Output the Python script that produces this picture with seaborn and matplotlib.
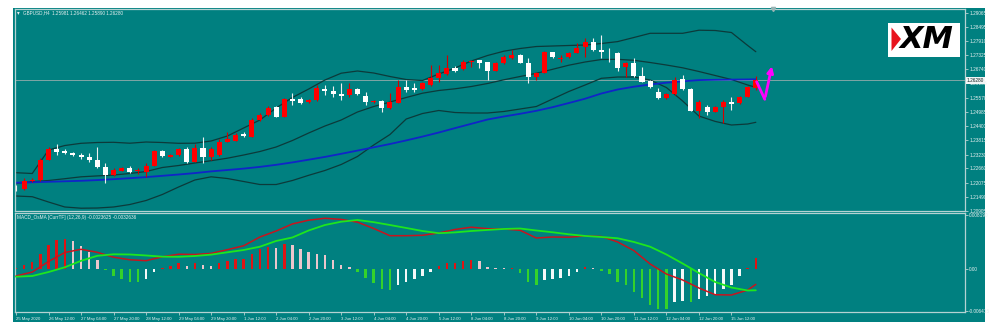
import numpy as np
import pandas as pd
import matplotlib
matplotlib.use("Agg")
import matplotlib.pyplot as plt
import seaborn as sns
from matplotlib.patches import Rectangle, Polygon

sns.set_theme(style="white")
plt.rcParams['font.family'] = ['Liberation Sans', 'DejaVu Sans']

# ---------------- GBPUSD H4 candles ----------------
opens = [1.21872, 1.21798, 1.22160, 1.22181, 1.23004, 1.23444, 1.23374, 1.23279, 1.23209, 1.23140,
         1.23004, 1.22703, 1.22386, 1.22563, 1.22662, 1.22551, 1.22522, 1.22769, 1.23374, 1.23140,
         1.23209, 1.23444, 1.22934, 1.23510, 1.23140, 1.23209, 1.23757, 1.23798, 1.24061, 1.23963,
         1.24650, 1.24856, 1.25172, 1.24786, 1.25514, 1.25502, 1.25403, 1.25473, 1.25925, 1.25855,
         1.25720, 1.25679, 1.25913, 1.25650, 1.25378, 1.25432, 1.25131, 1.25362, 1.25995, 1.25979,
         1.25913, 1.26090, 1.26366, 1.26543, 1.26802, 1.26748, 1.27024, 1.27119, 1.27024, 1.26679,
         1.26983, 1.27189, 1.27325, 1.27008, 1.26407, 1.26596, 1.27436, 1.27160, 1.27230, 1.27419,
         1.27641, 1.27872, 1.27530, 1.27460, 1.27395, 1.26843, 1.26983, 1.26473, 1.26255, 1.25814,
         1.25543, 1.25720, 1.26337, 1.25913, 1.25032, 1.25172, 1.24991, 1.25172, 1.25403, 1.25337,
         1.25609, 1.25981]
highs = [1.21975, 1.22263, 1.22263, 1.23086, 1.23539, 1.23662, 1.23456, 1.23345, 1.23304, 1.23304,
         1.23551, 1.22880, 1.22674, 1.22716, 1.22769, 1.22662, 1.22868, 1.23415, 1.23415, 1.23251,
         1.23498, 1.23551, 1.23662, 1.23950, 1.23551, 1.23868, 1.24144, 1.24115, 1.24168, 1.24732,
         1.24938, 1.25226, 1.25226, 1.25555, 1.25761, 1.25609, 1.25514, 1.26090, 1.26090, 1.26049,
         1.26160, 1.26160, 1.25967, 1.25814, 1.25473, 1.25473, 1.25749, 1.26296, 1.26296, 1.26160,
         1.26214, 1.26913, 1.26913, 1.27325, 1.26872, 1.27119, 1.27119, 1.27130, 1.27049, 1.27037,
         1.27325, 1.27530, 1.27366, 1.27201, 1.26625, 1.27489, 1.27460, 1.27325, 1.27448, 1.27831,
         1.28012, 1.28012, 1.28148, 1.27600, 1.27460, 1.27037, 1.27189, 1.26843, 1.26296, 1.25967,
         1.25761, 1.26407, 1.26502, 1.25967, 1.25473, 1.25267, 1.25226, 1.25473, 1.25609, 1.25637,
         1.26049, 1.26462]
lows = [1.21728, 1.21769, 1.22098, 1.22139, 1.22990, 1.23209, 1.23251, 1.23168, 1.23032, 1.22934,
        1.22662, 1.22057, 1.22345, 1.22551, 1.22481, 1.22428, 1.22316, 1.22757, 1.23140, 1.23127,
        1.23168, 1.22893, 1.22921, 1.22893, 1.23004, 1.23168, 1.23744, 1.23786, 1.23963, 1.23950,
        1.24609, 1.24814, 1.24773, 1.24773, 1.25267, 1.25308, 1.25349, 1.25452, 1.25679, 1.25609,
        1.25473, 1.25609, 1.25679, 1.25267, 1.25349, 1.24991, 1.25102, 1.25349, 1.25814, 1.25814,
        1.25884, 1.26049, 1.26226, 1.26502, 1.26625, 1.26707, 1.26843, 1.26777, 1.26296, 1.26666,
        1.26954, 1.27160, 1.26995, 1.26172, 1.26296, 1.26584, 1.27222, 1.27049, 1.27201, 1.27395,
        1.27255, 1.27489, 1.27189, 1.27049, 1.26679, 1.26432, 1.26419, 1.26214, 1.25967, 1.25514,
        1.25514, 1.25679, 1.25884, 1.25020, 1.24732, 1.24856, 1.24979, 1.24526, 1.25061, 1.25308,
        1.25596, 1.25890]
closes = [1.21831, 1.22152, 1.22201, 1.23004, 1.23444, 1.23345, 1.23304, 1.23209, 1.23115, 1.23004,
          1.22728, 1.22386, 1.22592, 1.22662, 1.22522, 1.22580, 1.22757, 1.23374, 1.23168, 1.23209,
          1.23444, 1.22934, 1.23510, 1.23140, 1.23444, 1.23757, 1.23856, 1.24032, 1.23991, 1.24650,
          1.24856, 1.25131, 1.24786, 1.25514, 1.25444, 1.25362, 1.25473, 1.25954, 1.25843, 1.25720,
          1.25650, 1.25913, 1.25707, 1.25403, 1.25432, 1.25156, 1.25378, 1.26020, 1.25884, 1.25884,
          1.26160, 1.26366, 1.26572, 1.26802, 1.26666, 1.27049, 1.27090, 1.27008, 1.26666, 1.26983,
          1.27230, 1.27325, 1.27008, 1.26407, 1.26596, 1.27436, 1.27255, 1.27214, 1.27395, 1.27625,
          1.27872, 1.27530, 1.27436, 1.27436, 1.26777, 1.26983, 1.26460, 1.26226, 1.25995, 1.25543,
          1.25720, 1.26296, 1.25913, 1.25032, 1.25403, 1.24991, 1.25172, 1.25403, 1.25308, 1.25609,
          1.25995, 1.26280]

# ---------------- indicator lines (every second bar, plus the last one) ----------------
line_idx = list(range(0, 91, 2)) + [91]
bb_upper = [1.22481, 1.22448, 1.23415, 1.23600, 1.23691, 1.23724, 1.23732, 1.23695, 1.23744, 1.23724,
            1.23691, 1.23695, 1.23786, 1.23991, 1.24321, 1.24650, 1.25144, 1.25576, 1.25925, 1.26296,
            1.26576, 1.26666, 1.26584, 1.26440, 1.26316, 1.26275, 1.26543, 1.26790, 1.27078, 1.27304,
            1.27481, 1.27592, 1.27674, 1.27695, 1.27716, 1.27736, 1.27798, 1.27876, 1.28045, 1.28218,
            1.28218, 1.28218, 1.28345, 1.28333, 1.28251, 1.27716, 1.27460]
bb_middle = [1.22045, 1.22111, 1.22160, 1.22234, 1.22312, 1.22349, 1.22386, 1.22448, 1.22530, 1.22695,
             1.22777, 1.22880, 1.22975, 1.23078, 1.23209, 1.23353, 1.23539, 1.23806, 1.24115, 1.24403,
             1.24650, 1.24979, 1.25205, 1.25390, 1.25576, 1.25753, 1.25864, 1.25934, 1.26028, 1.26152,
             1.26304, 1.26440, 1.26572, 1.26736, 1.26905, 1.27037, 1.27139, 1.27148, 1.27107, 1.27016,
             1.26913, 1.26798, 1.26646, 1.26481, 1.26316, 1.26090, 1.25995]
bb_lower = [1.21522, 1.21493, 1.21275, 1.21070, 1.21020, 1.21028, 1.21070, 1.21172, 1.21337, 1.21584,
            1.21893, 1.22181, 1.22312, 1.22242, 1.22119, 1.21995, 1.21995, 1.22160, 1.22374, 1.22572,
            1.22819, 1.23148, 1.23621, 1.24053, 1.24691, 1.24917, 1.25041, 1.24958, 1.24938, 1.24938,
            1.25000, 1.25102, 1.25205, 1.25514, 1.25823, 1.26090, 1.26366, 1.26419, 1.26419, 1.26296,
            1.25987, 1.25432, 1.24814, 1.24592, 1.24444, 1.24485, 1.24555]
ma_line = [1.22069, 1.22086, 1.22107, 1.22127, 1.22148, 1.22177, 1.22214, 1.22255, 1.22300, 1.22353,
           1.22407, 1.22465, 1.22535, 1.22592, 1.22650, 1.22720, 1.22806, 1.22905, 1.23016, 1.23131,
           1.23259, 1.23391, 1.23526, 1.23662, 1.23810, 1.23967, 1.24135, 1.24316, 1.24493, 1.24670,
           1.24794, 1.24905, 1.25028, 1.25177, 1.25349, 1.25526, 1.25740, 1.25905, 1.26020, 1.26111,
           1.26185, 1.26242, 1.26292, 1.26304, 1.26312, 1.26320, 1.26325]

macd_line = [-0.00109, -0.00049, 0.00111, 0.00247, 0.00296, 0.00250, 0.00176, 0.00137, 0.00123, 0.00182,
             0.00221, 0.00217, 0.00234, 0.00290, 0.00349, 0.00482, 0.00573, 0.00680, 0.00737, 0.00766,
             0.00749, 0.00707, 0.00611, 0.00502, 0.00502, 0.00508, 0.00543, 0.00596, 0.00631, 0.00608,
             0.00604, 0.00584, 0.00467, 0.00482, 0.00479, 0.00499, 0.00490, 0.00407, 0.00276, 0.00073,
             -0.00079, -0.00170, -0.00291, -0.00393, -0.00397, -0.00322, -0.00236]
signal_line = [-0.00120, -0.00109, -0.00049, 0.00023, 0.00121, 0.00197, 0.00220, 0.00217, 0.00202, 0.00184,
               0.00182, 0.00194, 0.00215, 0.00250, 0.00285, 0.00335, 0.00422, 0.00475, 0.00581, 0.00664,
               0.00714, 0.00740, 0.00707, 0.00664, 0.00619, 0.00573, 0.00540, 0.00552, 0.00573, 0.00589,
               0.00604, 0.00611, 0.00581, 0.00554, 0.00523, 0.00498, 0.00482, 0.00463, 0.00407, 0.00335,
               0.00217, 0.00080, -0.00064, -0.00200, -0.00284, -0.00329, -0.00326]

osma = [0.00005, 0.00061, 0.00096, 0.00223, 0.00364, 0.00440, 0.00451, 0.00414, 0.00353, 0.00262,
        0.00137, -0.00015, -0.00106, -0.00152, -0.00193, -0.00202, -0.00152, -0.00050, 0.00015, 0.00050,
        0.00091, 0.00050, 0.00091, 0.00055, 0.00050, 0.00091, 0.00111, 0.00152, 0.00152, 0.00228,
        0.00293, 0.00329, 0.00314, 0.00375, 0.00364, 0.00303, 0.00253, 0.00228, 0.00202, 0.00126,
        0.00061, 0.00026, -0.00050, -0.00141, -0.00217, -0.00303, -0.00329, -0.00253, -0.00202, -0.00162,
        -0.00111, -0.00041, 0.00035, 0.00086, 0.00091, 0.00121, 0.00137, 0.00117, 0.00026, 0.00008,
        0.00005, 0.00005, -0.00065, -0.00193, -0.00253, -0.00177, -0.00162, -0.00141, -0.00111, -0.00050,
        0.00026, 0.00011, -0.00030, -0.00086, -0.00193, -0.00253, -0.00353, -0.00440, -0.00542, -0.00607,
        -0.00617, -0.00505, -0.00481, -0.00505, -0.00455, -0.00405, -0.00379, -0.00303, -0.00243, -0.00111,
        0.00011, 0.00162]

time_labels = ["25 May 2020", "26 May 12:00", "27 May 04:00", "27 May 20:00", "28 May 12:00",
               "29 May 04:00", "29 May 20:00", "1 Jun 12:00", "2 Jun 04:00", "2 Jun 20:00",
               "3 Jun 12:00", "4 Jun 04:00", "4 Jun 20:00", "5 Jun 12:00", "8 Jun 04:00",
               "8 Jun 20:00", "9 Jun 12:00", "10 Jun 04:00", "10 Jun 20:00", "11 Jun 12:00",
               "12 Jun 04:00", "12 Jun 20:00", "15 Jun 12:00"]
price_ticks = [1.29065, 1.28495, 1.27910, 1.27325, 1.26740, 1.26155, 1.25570, 1.24985,
               1.24400, 1.23815, 1.23230, 1.22660, 1.22075, 1.21490, 1.20905]
price_tick_labels = ["1.29065", "1.28495", "1.27910", "1.27325", "1.26740", "1.26155", "1.25570",
                     "1.24985", "1.24400", "1.23815", "1.23230", "1.22660", "1.22075", "1.21490", "1.20905"]
macd_ticks = [0.00819, 0.0, -0.00641]
macd_tick_labels = ["0.008190", "0.00", "-0.006415"]

symbol_title = "GBPUSD,H4  1.25981 1.26462 1.25890 1.26280"
macd_title = "MACD_OsMA [CurrTF] (12,26,9) -0.0023625 -0.0032636"
last_price = closes[-1]

# ---------------- styling ----------------
TEAL = '#008080'
FRAME = '#b4d2d2'
TXT = '#e8f0f0'
UP = '#ff0000'
DOWN = '#ffffff'
BAND = '#0c3a3a'
MA_BLUE = '#1025c8'
AXIS_FS = 3.4

W, H = 1000, 331
fig = plt.figure(figsize=(W / 100, H / 100), dpi=100)
fig.patch.set_facecolor('white')


def fx(px):
    return px / W


def fy(py):
    return 1 - py / H


fig.add_artist(Rectangle((fx(13), fy(322)), fx(985) - fx(13), fy(8) - fy(322),
                         transform=fig.transFigure, facecolor=TEAL, edgecolor='none', zorder=0))

ax = fig.add_axes([fx(15), fy(211), fx(965) - fx(15), fy(9) - fy(211)])
axm = fig.add_axes([fx(15), fy(312), fx(965) - fx(15), fy(213) - fy(312)], sharex=ax)

for a in (ax, axm):
    a.set_facecolor(TEAL)
    for s in a.spines.values():
        s.set_color(FRAME)
        s.set_linewidth(0.9)
        s.set_visible(True)

n = len(opens)
idx = np.arange(n)
o = np.array(opens)
c = np.array(closes)
hi = np.array(highs)
lo = np.array(lows)
up = c >= o

df = pd.DataFrame({"bar": line_idx, "upper": bb_upper, "middle": bb_middle,
                   "lower": bb_lower, "ma": ma_line, "macd": macd_line, "signal": signal_line})

# Bollinger bands and moving average
for col in ("upper", "middle", "lower"):
    sns.lineplot(data=df, x="bar", y=col, ax=ax, color=BAND, lw=0.9, zorder=2)
sns.lineplot(data=df, x="bar", y="ma", ax=ax, color=MA_BLUE, lw=1.3, zorder=2)

# current price line
ax.axhline(last_price, color='#7fa6a6', lw=0.7, zorder=1)

# candles
wick_cols = np.where(up, '#d40000', '#f0f0f0')
ax.vlines(idx, lo, hi, colors=wick_cols, lw=0.8, zorder=3)
body_h = np.maximum(np.abs(c - o), 0.00012)
ax.bar(idx, body_h, bottom=np.minimum(o, c), width=0.62,
       color=np.where(up, UP, DOWN), edgecolor='none', zorder=4)

# arrow showing the expected move
ax.plot([91.1, 92.1], [1.26226, 1.25502], color='#ff00ff', lw=2.0, zorder=6, solid_capstyle='round')
ax.annotate("", xy=(93.05, 1.26975), xytext=(92.1, 1.25502),
            arrowprops=dict(arrowstyle='-|>', color='#ff00ff', lw=2.0, mutation_scale=9), zorder=6)

ax.set_xlim(-0.123, 116.73)
ax.set_ylim(1.20905, 1.29218)
ax.yaxis.tick_right()
ax.set_yticks(price_ticks)
ax.set_yticklabels(price_tick_labels)
ax.tick_params(axis='y', right=True, length=2, width=0.6, color=FRAME, pad=1,
               labelsize=AXIS_FS, labelcolor=TXT)
ax.tick_params(axis='x', bottom=False, labelbottom=False)
ax.set_xlabel("")
ax.set_ylabel("")

# price tag on the axis
ax.text(1.002, last_price, f"{last_price:.5f}", transform=ax.get_yaxis_transform(),
        fontsize=AXIS_FS, color='#102020', va='center', ha='left',
        bbox=dict(boxstyle='square,pad=0.25', facecolor='#f2f6f6', edgecolor='none'), zorder=7, clip_on=False)

ax.text(fx(23), fy(13), symbol_title, transform=fig.transFigure, fontsize=3.3, color=TXT, va='center', ha='left')
ax.text(fx(18.5), fy(13), "▾", transform=fig.transFigure, fontsize=4.0, color=TXT, va='center', ha='center')

# chart shift marker on the top border
ax.plot([93.1], [1.0], marker='v', markersize=3, color='#9ab4b4', transform=ax.get_xaxis_transform(),
        clip_on=False, zorder=7)

# ---------------- MACD / OsMA panel ----------------
vals = np.array(osma)
prev = np.concatenate([[-np.inf], vals[:-1]])
hist_cols = []
for v, p in zip(vals, prev):
    if v >= 0:
        hist_cols.append('#e01414' if v >= p else '#ecc6cc')
    else:
        hist_cols.append('#34d22a' if v <= p else '#f4f8f8')
axm.bar(idx, vals, width=0.3, color=hist_cols, edgecolor='none', zorder=2)
sns.lineplot(data=df, x="bar", y="macd", ax=axm, color='#c8141e', lw=1.1, zorder=3)
sns.lineplot(data=df, x="bar", y="signal", ax=axm, color='#1ee61e', lw=1.3, zorder=3)

axm.set_ylim(-0.00655, 0.00846)
axm.yaxis.tick_right()
axm.set_yticks(macd_ticks)
axm.set_yticklabels(macd_tick_labels)
axm.tick_params(axis='y', right=True, length=2, width=0.6, color=FRAME, pad=1,
                labelsize=AXIS_FS, labelcolor=TXT)
axm.set_xticks(np.arange(0, 4 * len(time_labels), 4))
axm.set_xticklabels(time_labels)
axm.tick_params(axis='x', bottom=True, length=2.5, width=0.6, color=FRAME, pad=1.2,
                labelsize=3.1, labelcolor=TXT)
for lab in axm.get_xticklabels():
    lab.set_ha('left')
axm.set_xlabel("")
axm.set_ylabel("")
axm.set_xlim(-0.123, 116.73)
axm.text(fx(17), fy(217), macd_title, transform=fig.transFigure, fontsize=3.4, color=TXT, va='center', ha='left')

# ---------------- XM badge ----------------
fig.add_artist(Rectangle((fx(888), fy(56.7)), fx(960) - fx(888), fy(22.7) - fy(56.7),
                         transform=fig.transFigure, facecolor='white', edgecolor='none', zorder=8))
fig.add_artist(Polygon([(fx(891.5), fy(27.5)), (fx(901), fy(39)), (fx(891.5), fy(51))], closed=True,
                       transform=fig.transFigure, facecolor='#e8141e', edgecolor='none', zorder=9))
fig.text(fx(926), fy(40), "XM", fontsize=22, fontweight='heavy', fontstyle='italic', color='black',
         family='DejaVu Sans', ha='center', va='center', zorder=10)

fig.savefig("out.png", dpi=100, facecolor=fig.get_facecolor())
